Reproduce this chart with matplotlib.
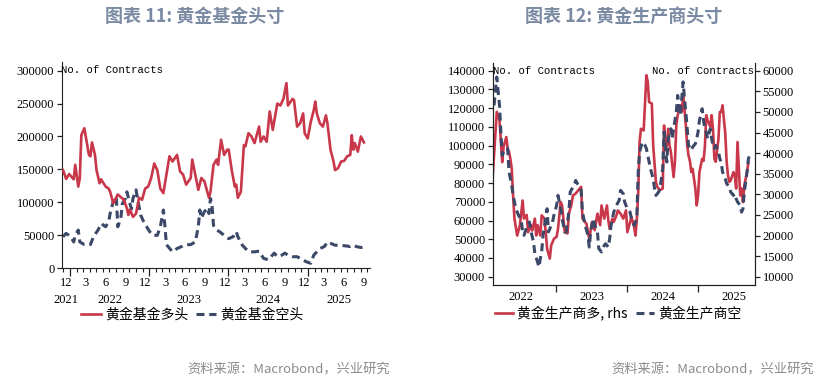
import numpy as np
import pandas as pd
import matplotlib
matplotlib.use("Agg")
import matplotlib.pyplot as plt
import matplotlib.dates as mdates
from matplotlib.lines import Line2D

CJK = ['Noto Sans CJK SC', 'DejaVu Sans']
SERIF = 'Liberation Serif'
MONO = 'Liberation Mono'
RED = '#c8374a'
NAVY = '#3b4868'
TITLE_C = '#7a8aa3'
SRC_C = '#8a8a8a'

# ---------------- Chart 11: gold fund positions (weekly, weeks since start) ----------------
fund_start = '2021-11-30'
fund_long_weeks = [0, 2, 4, 7, 8, 10, 11, 12, 14, 17, 18, 19, 21, 22, 24, 25, 28, 30, 31, 33,
                   36, 40, 42, 43, 44, 46, 48, 50, 52, 54, 56, 58, 60, 62, 64, 66, 68, 70, 72, 75,
                   77, 79, 81, 84, 85, 87, 89, 91, 93, 96, 97, 99, 101, 102, 104, 106, 108, 109, 111, 113,
                   114, 115, 117, 119, 120, 122, 124, 126, 129, 130, 132, 134, 136, 138, 141, 143, 145, 147, 148, 151,
                   152, 154, 156, 158, 159, 161, 163, 165, 166, 167, 169, 171, 173, 174, 176, 178, 179, 181, 183, 185,
                   187, 189, 190, 191, 192, 194, 196, 198]
fund_long = [149000, 135600, 143000, 135000, 157000, 124000, 137000, 202000, 212500, 172000,
             170000, 191000, 172000, 149000, 129000, 135000, 124000, 121000, 116000, 98600,
             112000, 104000, 91000, 81000, 89000, 78000, 83000, 107000, 104000, 121000,
             124000, 137000, 159000, 149000, 121000, 114000, 142000, 170000, 162000, 172000,
             147000, 142000, 127000, 137000, 165000, 142000, 119000, 137000, 132000, 107000,
             116000, 157000, 165000, 157000, 195000, 172000, 180000, 180000, 149000, 124000,
             127000, 107000, 116000, 187000, 185000, 205000, 200000, 190000, 215000, 192000,
             200000, 192000, 238000, 210000, 250000, 247000, 257000, 281000, 247000, 257000,
             255000, 215000, 220000, 235000, 205000, 197000, 222000, 240000, 253000, 235000,
             220000, 215000, 232000, 220000, 180000, 162000, 149000, 152000, 162000, 163000,
             170000, 172000, 202000, 180000, 190000, 177000, 200000, 191000]
fund_short_weeks = [0, 2, 5, 7, 8, 10, 11, 14, 18, 20, 23, 25, 28, 30, 31, 33, 35, 36, 38, 39,
                    41, 42, 44, 45, 46, 48, 49, 51, 53, 55, 57, 59, 62, 64, 66, 67, 68, 72, 75, 78,
                    80, 84, 87, 89, 90, 91, 93, 95, 96, 97, 98, 99, 101, 103, 106, 109, 112, 114, 115, 118,
                    121, 123, 126, 129, 132, 135, 139, 141, 144, 146, 148, 151, 154, 157, 160, 163, 165, 167, 169, 172,
                    174, 176, 179, 182, 186, 189, 191, 193, 196, 198]
fund_short = [48000, 53000, 48000, 40000, 50000, 58000, 40000, 36000, 36000, 48000,
              58000, 68000, 63000, 71000, 83500, 101000, 109000, 63000, 76000, 98000,
              106000, 116000, 98000, 90000, 106000, 119000, 106000, 81000, 71000, 63000,
              55600, 50000, 50000, 63000, 88500, 65000, 36000, 25000, 30000, 33000,
              35400, 36000, 40000, 63000, 88500, 76000, 86000, 91000, 83000, 106000,
              96000, 65000, 58000, 55600, 50000, 45000, 48000, 55600, 48000, 35000,
              27800, 25000, 25000, 26000, 15000, 13000, 23000, 17600, 20000, 23000,
              20000, 17600, 17600, 14000, 10000, 7600, 20000, 25000, 30000, 33000,
              40000, 38000, 35000, 35000, 34000, 33000, 35000, 33000, 31500, 33000]

# ---------------- Chart 12: gold producer positions ----------------
prod_start = '2022-02-08'
prod_long_weeks = [0, 3, 5, 7, 8, 10, 11, 12, 13, 14, 15, 16, 18, 20, 22, 23, 25, 26, 28, 29,
                   31, 32, 33, 35, 36, 38, 39, 40, 42, 43, 45, 47, 48, 50, 51, 52, 53, 55, 56, 58,
                   59, 61, 63, 65, 66, 69, 70, 71, 73, 75, 77, 79, 80, 82, 84, 85, 86, 88, 89, 91,
                   92, 94, 96, 98, 99, 101, 102, 104, 105, 106, 107, 108, 109, 111, 112, 113, 114, 115, 117, 118,
                   120, 121, 123, 125, 126, 127, 128, 129, 130, 131, 133, 134, 135, 136, 138, 139, 140, 141, 142, 143,
                   144, 145, 146, 147, 149, 150, 151, 152, 154, 155, 156, 157, 158, 160, 161, 162, 163, 164, 166, 167,
                   168, 169, 171, 172, 173, 174, 175, 177, 178, 179, 180, 182, 183, 184, 185, 187, 188]
prod_long = [34300, 50000, 48000, 37800, 41500, 43900, 41100, 40300, 38600, 36200,
             29700, 24100, 20000, 22500, 28500, 24100, 25000, 20800, 22500, 21200,
             24100, 20000, 22500, 20000, 24900, 24100, 20800, 16800, 14400, 17600,
             19200, 19700, 21600, 28100, 27300, 24100, 20800, 20500, 25300, 27700,
             29700, 30200, 31000, 31800, 24100, 22800, 20800, 19200, 23300, 21300,
             25300, 22500, 27300, 24100, 27300, 23700, 21600, 24100, 23300, 24900,
             26100, 25300, 24100, 26100, 20800, 23300, 24500, 22100, 20000, 24100,
             30500, 42700, 45900, 45500, 52400, 58900, 57300, 52400, 52000, 41900,
             33000, 31800, 31000, 31400, 46700, 40700, 41900, 45900, 41900, 40300,
             34200, 37900, 46700, 49200, 51600, 50000, 54000, 50800, 46700, 41900,
             39400, 38100, 35400, 36200, 31400, 27300, 29700, 35400, 38600, 38100,
             41500, 49200, 48000, 46400, 49200, 45600, 38600, 37900, 43500, 50000,
             50000, 51600, 44800, 37900, 34600, 33000, 33400, 35400, 34600, 31400,
             42700, 29700, 31400, 28100, 32200, 35400, 37800]
prod_short_weeks = [1, 3, 5, 6, 7, 9, 11, 12, 14, 15, 17, 19, 21, 22, 23, 25, 27, 28, 30, 31,
                    33, 34, 35, 36, 37, 39, 40, 41, 42, 44, 45, 47, 48, 50, 51, 53, 54, 56, 57, 59,
                    60, 61, 63, 65, 66, 68, 70, 71, 72, 74, 75, 77, 78, 80, 82, 83, 85, 86, 87, 89,
                    91, 93, 94, 96, 97, 99, 101, 102, 104, 105, 106, 107, 108, 110, 112, 113, 115, 116, 118, 119,
                    120, 122, 123, 125, 126, 127, 128, 129, 131, 132, 133, 135, 136, 137, 138, 140, 141, 142, 143, 144,
                    146, 147, 149, 150, 151, 152, 154, 155, 156, 157, 158, 160, 161, 162, 163, 164, 166, 167, 168, 169,
                    171, 172, 173, 174, 175, 177, 178, 179, 180, 182, 183, 184, 185, 187, 188, 189]
prod_short = [121500, 136600, 121500, 107300, 94800, 98400, 98400, 85900, 78800, 73400,
              66300, 62800, 60100, 53900, 52100, 56500, 59200, 54700, 48500, 42300,
              37800, 35200, 39600, 43200, 52100, 61000, 66300, 53900, 55600, 59200,
              62800, 68100, 73400, 66300, 61000, 53900, 53900, 64500, 75200, 77900,
              78800, 81400, 78800, 76100, 64500, 57400, 52100, 45800, 53900, 61000,
              57400, 53900, 45000, 43200, 46700, 47600, 45800, 50300, 57400, 64500,
              68100, 70800, 76100, 74300, 69900, 66300, 64500, 61000, 57400, 59200,
              62800, 85900, 96600, 101900, 100100, 98400, 91200, 87700, 82300, 77000,
              73400, 75200, 77000, 87700, 107300, 98400, 91200, 103700, 109000, 103700,
              109000, 117900, 126800, 121500, 116200, 134000, 125100, 117900, 109000, 100100,
              97500, 99200, 101000, 103700, 107300, 113500, 119700, 113500, 109000, 107300,
              103700, 109000, 103700, 100100, 98400, 100100, 96600, 93000, 91200, 85900,
              82300, 79700, 78800, 77900, 75200, 73400, 74300, 71700, 69900, 68100,
              64500, 66300, 75200, 85900, 93000, 94800]

fund_ticks = list(range(0, 300001, 50000))
prod_left_ticks = list(range(30000, 140001, 10000))
prod_right_ticks = list(range(10000, 60001, 5000))
month_label_months = [12, 3, 6, 9]


def to_dates(start, weeks):
    return pd.Timestamp(start) + pd.to_timedelta(np.array(weeks) * 7, unit='D')


assert len(fund_long_weeks) == len(fund_long)
assert len(fund_short_weeks) == len(fund_short)
assert len(prod_long_weeks) == len(prod_long)
assert len(prod_short_weeks) == len(prod_short)

W, H = 834, 381
fig = plt.figure(figsize=(W / 100, H / 100), dpi=100)


def box(l, t, r, b):
    return [l / W, 1 - b / H, (r - l) / W, (b - t) / H]


DASH = (0, (2.6, 1.6))

# ---------------- left chart ----------------
ax1 = fig.add_axes(box(62, 62, 370, 268.3))
ax1.plot(to_dates(fund_start, fund_long_weeks), fund_long, color=RED, lw=1.9, zorder=3)
ax1.plot(to_dates(fund_start, fund_short_weeks), fund_short, color=NAVY, lw=2.2,
         linestyle=DASH, dash_capstyle='butt', zorder=2)
x0, x1 = pd.Timestamp('2021-11-25'), pd.Timestamp('2025-10-14')
ax1.set_xlim(x0, x1)
ax1.set_ylim(0, 313000)
ax1.set_yticks(fund_ticks)
ax1.set_yticklabels([str(v) for v in fund_ticks], family=SERIF, fontsize=9)
for s in ['top', 'right']:
    ax1.spines[s].set_visible(False)
for s in ['left', 'bottom']:
    ax1.spines[s].set_color('#222222')
ax1.tick_params(axis='y', length=3.5, width=0.9, color='#222222', pad=2)
ax1.xaxis.set_major_locator(mdates.YearLocator())
ax1.xaxis.set_minor_locator(mdates.MonthLocator())
ax1.tick_params(axis='x', which='major', length=6, width=0.9, color='#222222', labelbottom=False)
ax1.tick_params(axis='x', which='minor', length=3, width=0.8, color='#222222')
xf0, xf1 = mdates.date2num(x0), mdates.date2num(x1)
for yr in range(2021, 2026):
    for mo in month_label_months:
        d = mdates.date2num(pd.Timestamp(yr, mo, 15))
        if xf0 <= d <= xf1:
            ax1.annotate(str(mo), xy=(d, 0), xycoords=('data', 'axes fraction'),
                         xytext=(0, -10.6), textcoords='offset points',
                         ha='center', va='center', family=SERIF, fontsize=9)
    ys = max(mdates.date2num(pd.Timestamp(yr, 1, 1)), xf0)
    ye = min(mdates.date2num(pd.Timestamp(yr + 1, 1, 1)), xf1)
    ax1.annotate(str(yr), xy=((ys + ye) / 2, 0), xycoords=('data', 'axes fraction'),
                 xytext=(0, -22.8), textcoords='offset points',
                 ha='center', va='center', family=SERIF, fontsize=9)
ax1.annotate('No. of Contracts', xy=(0, 1), xycoords='axes fraction', xytext=(-1, -5.8),
             textcoords='offset points', ha='left', va='center', family=MONO, fontsize=7.7)

h1 = [Line2D([], [], color=RED, lw=1.9),
      Line2D([], [], color=NAVY, lw=2.2, linestyle=DASH, dash_capstyle='butt')]
fig.legend(h1, ['黄金基金多头', '黄金基金空头'], loc='center left',
           bbox_to_anchor=(81 / W, 1 - 315 / H), ncol=2, frameon=False,
           prop={'family': CJK, 'size': 10}, handlelength=1.45, handletextpad=0.3,
           columnspacing=0.5, borderpad=0, borderaxespad=0)

# ---------------- right chart ----------------
ax2 = fig.add_axes(box(492.7, 63, 755, 285))
ax2r = ax2.twinx()
ax2.set_zorder(ax2r.get_zorder() + 1)
ax2.patch.set_visible(False)
ax2r.plot(to_dates(prod_start, prod_long_weeks), prod_long, color=RED, lw=1.9)
ax2.plot(to_dates(prod_start, prod_short_weeks), prod_short, color=NAVY, lw=2.2,
         linestyle=DASH, dash_capstyle='butt')
p0, p1 = pd.Timestamp('2022-02-08'), pd.Timestamp('2025-10-20')
ax2.set_xlim(p0, p1)
ax2.set_ylim(25570, 144100)
ax2r.set_ylim(7990, 61870)
ax2.set_yticks(prod_left_ticks)
ax2.set_yticklabels([str(v) for v in prod_left_ticks], family=SERIF, fontsize=9)
ax2r.set_yticks(prod_right_ticks)
ax2r.set_yticklabels([str(v) for v in prod_right_ticks], family=SERIF, fontsize=9)
for a in (ax2, ax2r):
    a.spines['top'].set_visible(False)
    for s in ['left', 'right', 'bottom']:
        a.spines[s].set_color('#222222')
ax2.tick_params(axis='y', length=3.5, width=0.9, color='#222222', pad=2)
ax2r.tick_params(axis='y', length=3.5, width=0.9, color='#222222', pad=2)
ax2.xaxis.set_major_locator(mdates.YearLocator())
ax2.tick_params(axis='x', which='major', length=5, width=0.9, color='#222222', labelbottom=False)
for yr in range(2022, 2026):
    c = (mdates.date2num(pd.Timestamp(yr, 1, 1)) + mdates.date2num(pd.Timestamp(yr + 1, 1, 1))) / 2
    ax2.annotate(str(yr), xy=(c, 0), xycoords=('data', 'axes fraction'),
                 xytext=(0, -8.8), textcoords='offset points',
                 ha='center', va='center', family=SERIF, fontsize=9)
ax2.annotate('No. of Contracts', xy=(0, 1), xycoords='axes fraction', xytext=(0, -5.5),
             textcoords='offset points', ha='left', va='center', family=MONO, fontsize=7.7)
ax2.annotate('No. of Contracts', xy=(1, 1), xycoords='axes fraction', xytext=(-1, -5.5),
             textcoords='offset points', ha='right', va='center', family=MONO, fontsize=7.7)

h2 = [Line2D([], [], color=RED, lw=1.9),
      Line2D([], [], color=NAVY, lw=2.2, linestyle=DASH, dash_capstyle='butt')]
fig.legend(h2, ['黄金生产商多, rhs', '黄金生产商空'], loc='center left',
           bbox_to_anchor=(495 / W, 1 - 313 / H), ncol=2, frameon=False,
           prop={'family': CJK, 'size': 10}, handlelength=1.3, handletextpad=0.3,
           columnspacing=0.6, borderpad=0, borderaxespad=0)

# ---------------- titles and sources ----------------
fig.text(195 / W, 1 - 16 / H, '图表 11: 黄金基金头寸', ha='center', va='center',
         family=CJK, fontsize=13, fontweight='bold', color=TITLE_C)
fig.text(624 / W, 1 - 16 / H, '图表 12: 黄金生产商头寸', ha='center', va='center',
         family=CJK, fontsize=13, fontweight='bold', color=TITLE_C)
fig.text(390 / W, 1 - 370 / H, '资料来源：Macrobond，兴业研究', ha='right', va='center',
         family=CJK, fontsize=9.5, color=SRC_C)
fig.text(814 / W, 1 - 370 / H, '资料来源：Macrobond，兴业研究', ha='right', va='center',
         family=CJK, fontsize=9.5, color=SRC_C)

fig.savefig('out.png', dpi=100)
